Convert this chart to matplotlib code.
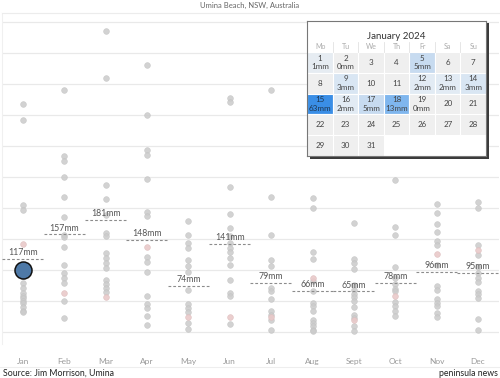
import datetime
import matplotlib
matplotlib.use('Agg')
import matplotlib.pyplot as plt
from matplotlib.patches import Rectangle
from matplotlib.colors import LinearSegmentedColormap, PowerNorm

plt.rcParams['font.family'] = ['Lato', 'DejaVu Sans']

months = ['Jan', 'Feb', 'Mar', 'Apr', 'May', 'Jun', 'Jul', 'Aug', 'Sept', 'Oct', 'Nov', 'Dec']

# monthly totals (mm) for earlier years
jan = [367, 342, 205, 197, 90, 79, 71, 63, 58, 55, 50, 47, 40, 34, 32]
feb = [390, 283, 275, 249, 218, 185, 156, 152, 136, 108, 95, 87, 79, 50, 22]
mar = [485, 410, 237, 214, 189, 159, 154, 127, 119, 111, 103, 84, 77, 70, 64]
apr = [431, 349, 294, 285, 247, 193, 187, 121, 113, 97, 57, 44, 38, 25, 11]
may = [178, 156, 143, 135, 115, 106, 97, 68, 44, 38, 31, 14, 4]
jun = [378, 370, 234, 190, 167, 154, 143, 135, 128, 119, 108, 84, 62, 57, 12]
jul = [390, 218, 156, 116, 106, 70, 65, 52, 33, 27, 18, 3]
aug = [216, 200, 129, 117, 81, 65, 46, 41, 33, 19, 14, 9, 3, 1]
sep = [175, 117, 110, 101, 76, 68, 61, 56, 50, 39, 27, 22, 9, 1]
octo = [245, 169, 156, 104, 87, 77, 69, 65, 48, 41, 33, 26]
nov = [206, 191, 173, 161, 146, 140, 108, 73, 68, 52, 46, 41, 30, 24]
dec = [210, 200, 140, 123, 105, 95, 87, 80, 65, 60, 54, 20, 3]
history = [jan, feb, mar, apr, may, jun, jul, aug, sep, octo, nov, dec]

# last year's totals (pink dots)
last_year = [142, 62, 56, 137, 23, 23, 23, 87, 18, 57, 126, 132]

# long term monthly averages
means = [117, 157, 181, 148, 74, 141, 79, 66, 65, 78, 96, 95]

# January 2024 daily rain
rain_days = [1, 2, 5, 9, 12, 13, 14, 15, 16, 17, 18, 19]
rain_mm = [1, 0, 5, 3, 2, 2, 3, 63, 2, 5, 13, 0]
jan_2024 = sum(rain_mm)

W, H = 500, 378
fig = plt.figure(figsize=(W / 100, H / 100), dpi=100)
fig.patch.set_facecolor('white')


def fx(px):
    return px / W


def fy(py):
    return 1 - py / H


ax = fig.add_axes([fx(2.3), fy(344), fx(496.4), fy(12.7) - fy(344)])
ax.set_xlim(-0.5, 11.5)
ax.set_ylim(-20, 515)

for g in range(0, 501, 50):
    ax.axhline(g, color='#e9e9e9', lw=0.9, zorder=0)

for i, vals in enumerate(history):
    ax.scatter([i] * len(vals), vals, s=17, color='#cbcbcb', edgecolors='#c2c2c2',
               linewidths=0.4, alpha=0.85, zorder=2)
ax.scatter(range(12), last_year, s=17, color='#e9c9c9', edgecolors='#dcbcbc',
           linewidths=0.4, alpha=0.9, zorder=2)

for i, m in enumerate(means):
    ax.plot([i - 0.5, i + 0.5], [m, m], color='#8c8c8c', lw=0.8,
            dashes=(2.5, 1.8), zorder=3)
    ax.text(i, m + 3, f'{m}mm', ha='center', va='bottom', fontsize=6.3,
            color='#555555', zorder=4)

ax.scatter([0], [jan_2024], s=150, color='#4e79a7', edgecolors='#111111',
           linewidths=1.1, zorder=5)

ax.set_xticks(range(12))
ax.set_xticklabels(months, fontsize=6, color='#9a9a9a')
ax.tick_params(axis='x', length=0, pad=10)
ax.set_yticks([])
for s in ['right', 'bottom']:
    ax.spines[s].set_visible(False)
ax.spines['top'].set_color('#ececec')
ax.spines['left'].set_color('#f0f0f0')

fig.text(0.5, fy(5), 'Umina Beach, NSW, Australia', ha='center', va='center',
         fontsize=5.5, color='#666666')
fig.text(fx(3), fy(373), 'Source: Jim Morrison, Umina', ha='left', va='center',
         fontsize=6.3, color='#222222')
fig.text(fx(498), fy(373), 'peninsula news', ha='right', va='center',
         fontsize=6.3, color='#222222')
fig.add_artist(plt.Line2D([0, 1], [fy(367), fy(367)], color='#eeeeee', lw=0.8))

# calendar popup
cl, cr, ct, cb = 307.3, 486, 20.7, 156
shadow = fig.add_axes([fx(cl + 2.5), fy(cb + 2.5), fx(cr - cl), fy(ct) - fy(cb)])
shadow.set_facecolor('#3a3a3a')
shadow.set_xticks([])
shadow.set_yticks([])
for s in shadow.spines.values():
    s.set_visible(False)

cal = fig.add_axes([fx(cl), fy(cb), fx(cr - cl), fy(ct) - fy(cb)])
cal.set_facecolor('white')
cal.set_xlim(0, 7)
cal.set_ylim(0, 6.5)
cal.set_xticks([])
cal.set_yticks([])
for s in cal.spines.values():
    s.set_color('#777777')
    s.set_linewidth(0.8)

cmap = LinearSegmentedColormap.from_list(
    'rain', [(0, '#efefef'), (0.18, '#e2ebf4'), (0.28, '#c8dcf0'),
             (0.45, '#80b6ee'), (1, '#3a8ee6')])
norm = PowerNorm(0.5, vmin=0, vmax=max(rain_mm))
rain = dict(zip(rain_days, rain_mm))

first = datetime.date(2024, 1, 1).weekday()
for d in range(1, 32):
    col = (d - 1 + first) % 7
    row = (d - 1 + first) // 7
    y0 = 4 - row
    face = cmap(norm(rain[d])) if d in rain else '#efefef'
    cal.add_patch(Rectangle((col, y0), 1, 1, facecolor=face, edgecolor='white', lw=0.8))
    tc = '#1d3550' if d in rain and rain[d] > 40 else '#444444'
    if d in rain:
        cal.text(col + 0.5, y0 + 0.7, str(d), ha='center', va='center', fontsize=5.8, color=tc)
        cal.text(col + 0.5, y0 + 0.3, f'{rain[d]}mm', ha='center', va='center', fontsize=5.8, color=tc)
    else:
        cal.text(col + 0.5, y0 + 0.5, str(d), ha='center', va='center', fontsize=5.8, color=tc)

for i, wd in enumerate(['Mo', 'Tu', 'We', 'Th', 'Fr', 'Sa', 'Su']):
    cal.text(i + 0.5, 5.25, wd, ha='center', va='center', fontsize=5, color='#aaaaaa')
    if i > 0:
        cal.plot([i, i], [5, 5.48], color='#e2e2e2', lw=0.6)
cal.text(3.5, 5.74, 'January 2024', ha='center', va='center', fontsize=7, color='#333333')

fig.savefig('out.png', dpi=100)
